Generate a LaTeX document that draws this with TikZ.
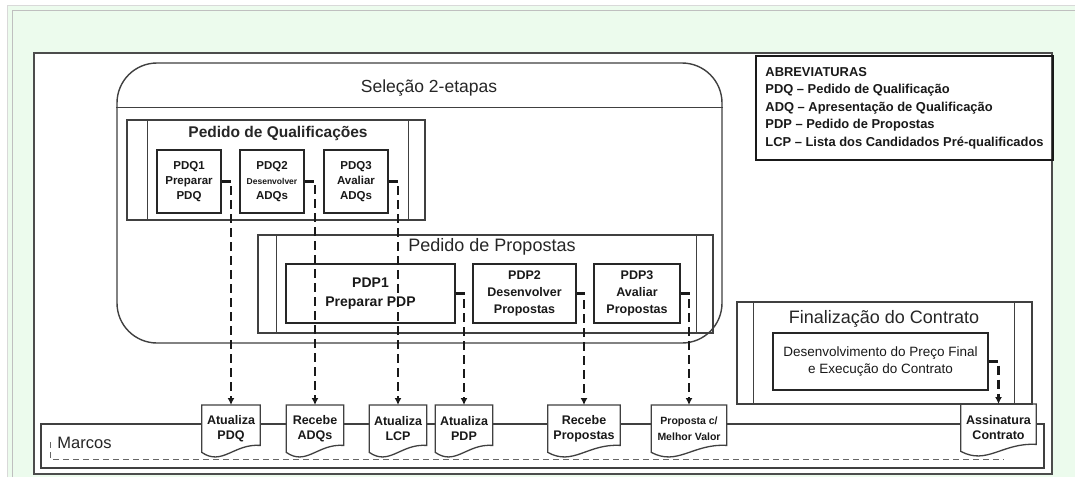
\documentclass[tikz,border=0pt]{standalone}
\usepackage{fontspec}
\setmainfont{Liberation Sans}
\usetikzlibrary{arrows.meta,calc,backgrounds}
\definecolor{bggreen}{RGB}{236,251,237}
\begin{document}
\begin{tikzpicture}[x=1pt,y=-1pt,
  lane/.style={draw=black!75,line width=1.4pt,inner sep=0pt},
  task/.style={draw=black!85,line width=1.3pt,inner sep=0pt,align=center,text=black!90},
  doc/.style={inner sep=0pt,align=center,minimum height=47pt,anchor=north,text=black!90,
    font=\fontsize{12.5}{15.5}\selectfont\bfseries},
  link/.style={draw=black!90,line width=2.2pt,dash pattern=on 9pt off 5pt,-{Latex[length=7pt,width=7pt]}},
  ttl/.style={text=black!85,inner sep=0pt}]
\useasboundingbox (0,0) rectangle (1075,477);
\begin{pgfonlayer}{background}
\fill[white] (0,0) rectangle (1075,477);
\fill[bggreen] (8,5) rectangle (1075,477);
\draw[black!15,line width=1pt] (7,477) -- (7,5) -- (1075,5);
\draw[black!25,line width=1pt] (12,477) -- (12,10) -- (1075,10);
\draw[black!70,line width=1.6pt,fill=white] (34,53) rectangle (1052,474);
\draw[black!75,line width=1.4pt] (41,424) rectangle (1044,468);
\draw[black!60,line width=1pt,dash pattern=on 6pt off 4pt] (50,442) |- (1004,459);
\end{pgfonlayer}

% abreviaturas
\node[draw=black!90,line width=2pt,anchor=north west,align=left,inner sep=0pt,
  minimum width=297pt,minimum height=104pt,text=black!90,
  font=\fontsize{12.9}{17.5}\selectfont\bfseries] (abrev) at (755,55)
  {ABREVIATURAS\\PDQ -- Pedido de Qualificação\\ADQ -- Apresentação de Qualificação\\PDP -- Pedido de Propostas\\LCP -- Lista dos Candidados Pré-qualificados};

% selecao 2-etapas
\node[lane,rounded corners=40pt,minimum width=605pt,minimum height=280pt] (sel) at (419.5,203) {};
\draw[lane] ([yshift=-45pt]sel.north west) -- ([yshift=-45pt]sel.north east);
\node[ttl,font=\fontsize{17.5}{20}\selectfont] (seltitle) at (429,88) {Seleção 2-etapas};

% pedido de qualificacoes
\node[lane,minimum width=298pt,minimum height=100pt] (quali) at (276,170) {};
\draw[lane] ([xshift=21pt]quali.north west) -- ([xshift=21pt]quali.south west);
\draw[lane] ([xshift=-17pt]quali.north east) -- ([xshift=-17pt]quali.south east);
\node[ttl,font=\fontsize{15.5}{18}\selectfont\bfseries] (qualititle) at (278,133) {Pedido de Qualificações};
\node[task,minimum width=64pt,minimum height=63pt,font=\fontsize{11.5}{15}\selectfont\bfseries] (pdq1) at (189,181.5) {PDQ1\\Preparar\\PDQ};
\node[task,minimum width=64pt,minimum height=63pt,font=\fontsize{11.5}{15}\selectfont\bfseries] (pdq2) at (272,181.5) {PDQ2\\{\fontsize{8.5}{9}\selectfont Desenvolver}\\ADQs};
\node[task,minimum width=64pt,minimum height=63pt,font=\fontsize{11.5}{15}\selectfont\bfseries] (pdq3) at (356,181.5) {PDQ3\\Avaliar\\ADQs};

% pedido de propostas
\node[lane,minimum width=455pt,minimum height=98pt] (propo) at (485.5,284) {};
\draw[lane] ([xshift=19pt]propo.north west) -- ([xshift=19pt]propo.south west);
\draw[lane] ([xshift=-17pt]propo.north east) -- ([xshift=-17pt]propo.south east);
\node[ttl,font=\fontsize{18}{20}\selectfont] (propotitle) at (492,247) {Pedido de Propostas};
\node[task,minimum width=169pt,minimum height=59pt,font=\fontsize{14}{19.5}\selectfont\bfseries] (pdp1) at (370.5,293.5) {PDP1\\Preparar PDP};
\node[task,minimum width=103pt,minimum height=59pt,font=\fontsize{12.5}{17}\selectfont\bfseries] (pdp2) at (524.5,293.5) {PDP2\\Desenvolver\\Propostas};
\node[task,minimum width=86pt,minimum height=59pt,font=\fontsize{12.5}{17}\selectfont\bfseries] (pdp3) at (637,293.5) {PDP3\\Avaliar\\Propostas};

% finalizacao do contrato
\node[lane,minimum width=295pt,minimum height=102pt] (final) at (884.5,353) {};
\draw[lane] ([xshift=17pt]final.north west) -- ([xshift=17pt]final.south west);
\draw[lane] ([xshift=-18pt]final.north east) -- ([xshift=-18pt]final.south east);
\node[ttl,font=\fontsize{18}{20}\selectfont] (finaltitle) at (884,319) {Finalização do Contrato};
\node[task,minimum width=215pt,minimum height=57pt,font=\fontsize{13.5}{17}\selectfont] (fin1) at (880.5,361.5) {Desenvolvimento do Preço Final\\e Execução do Contrato};

% marcos
\node[ttl,font=\fontsize{16.5}{18}\selectfont] (marcos) at (84.5,443) {Marcos};
\node[doc,minimum width=58pt] (apdq) at (231,405) {Atualiza\\PDQ};
\node[doc,minimum width=57pt] (radq) at (315,405) {Recebe\\ADQs};
\node[doc,minimum width=57pt] (alcp) at (398,405) {Atualiza\\LCP};
\node[doc,minimum width=57pt] (apdp) at (464,405) {Atualiza\\PDP};
\node[doc,minimum width=72pt] (rprop) at (584,405) {Recebe\\Propostas};
\node[doc,minimum width=75pt,font=\fontsize{10.5}{15.5}\selectfont\bfseries] (pmv) at (689,405) {Proposta c/\\Melhor Valor};
\node[doc,minimum width=75pt] (asc) at (998.5,404) {Assinatura\\Contrato};
\begin{pgfonlayer}{background}
\foreach \d in {apdq,radq,alcp,apdp,rprop,pmv,asc}
  \draw[black!75,line width=1.3pt,fill=white] (\d.north west) -- (\d.north east) -- ($(\d.south east)+(0,-7)$)
    .. controls ($(\d.south west)!0.55!(\d.south east)+(0,-9)$) and ($(\d.south west)!0.35!(\d.south east)+(0,14)$) .. (\d.south west) -- cycle;
\end{pgfonlayer}

\draw[link] (pdq1.east) -| (apdq.north);
\draw[link] (pdq2.east) -| (radq.north);
\draw[link] (pdq3.east) -| (alcp.north);
\draw[link] (pdp1.east) -| (apdp.north);
\draw[link] (pdp2.east) -| (rprop.north);
\draw[link] (pdp3.east) -| (pmv.north);
\draw[link] (fin1.east) -| (asc.north);
\end{tikzpicture}
\end{document}
